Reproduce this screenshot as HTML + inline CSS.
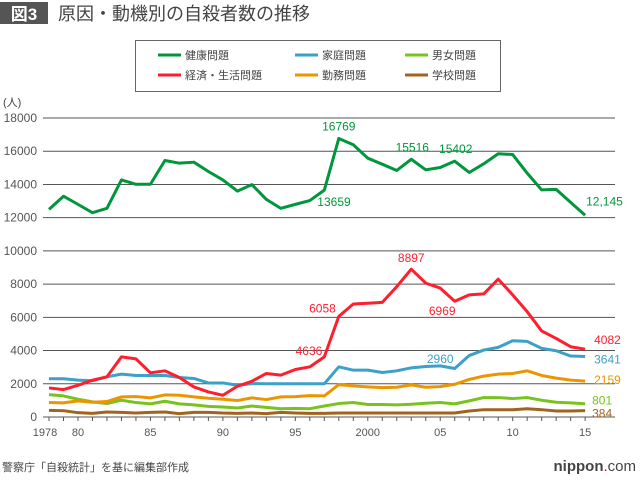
<!DOCTYPE html>
<html><head><meta charset="utf-8">
<style>
body{margin:0;background:#fff;width:640px;height:478px;overflow:hidden;font-family:"Liberation Sans","Noto Sans CJK JP",sans-serif;}
svg text{font-family:"Liberation Sans","Noto Sans CJK JP",sans-serif;}
</style></head><body>
<svg id="chart" width="640" height="478">
<rect x="0" y="2" width="48" height="22" fill="#555"/>
<text x="24" y="20" fill="#fff" font-size="17" font-weight="bold" text-anchor="middle">図3</text>
<text x="58" y="20" fill="#444" font-size="18">原因・動機別の自殺者数の推移</text>
<g>
<rect x="135.5" y="40.5" width="365" height="51" fill="#fff" stroke="#666"/>
</g>
<text x="3" y="106" fill="#444" font-size="11">(人)</text>
<g id="grid"></g><g id="series"></g><g id="labels"></g>
<text x="2" y="471" fill="#444" font-size="11">警察庁「自殺統計」を基に編集部作成</text>
<text x="636" y="471" fill="#444" font-size="15" text-anchor="end"><tspan font-weight="bold">nippon</tspan><tspan fill="#e60012">.</tspan><tspan>com</tspan></text>
</svg>
<script>
const years=[];for(let y=1978;y<=2015;y++)years.push(y);
const health=[12500,13290,12800,12300,12560,14270,14010,14010,15440,15280,15340,14780,14270,13600,13990,13100,12560,12800,13030,13659,16769,16390,15580,15220,14840,15516,14880,15020,15402,14720,15240,15850,15800,14680,13670,13700,12920,12145];
const economy=[1750,1650,1910,2215,2420,3620,3500,2660,2780,2380,1810,1510,1310,1850,2150,2620,2520,2860,3020,3620,6058,6800,6850,6900,7850,8897,8060,7760,6969,7350,7410,8300,7350,6340,5180,4730,4230,4082];
const family=[2300,2300,2220,2180,2420,2580,2500,2500,2500,2380,2320,2050,2050,1910,2010,2000,2000,2000,2000,2000,3020,2820,2820,2680,2780,2960,3040,3080,2920,3700,4030,4190,4590,4550,4130,3990,3670,3641];
const work=[870,850,970,890,930,1210,1230,1150,1330,1310,1210,1130,1070,990,1150,1050,1210,1230,1290,1270,1950,1870,1810,1770,1790,1930,1790,1830,1970,2260,2460,2580,2620,2780,2500,2340,2220,2159];
const gender=[1350,1270,1070,910,810,1010,870,790,950,790,730,640,600,540,660,580,500,520,500,660,810,870,750,750,730,770,830,870,790,970,1170,1170,1110,1170,1010,890,850,801];
const school=[400,380,260,220,300,280,240,280,300,200,280,280,240,220,240,200,280,240,220,220,240,240,240,240,240,240,240,240,240,360,440,440,440,500,440,360,360,384];
const yTicks=[0,2000,4000,6000,8000,10000,12000,14000,16000,18000];
const xTickYears=[1978,1980,1985,1990,1995,2000,2005,2010,2015];
const xTickLabels=["1978","80","85","90","95","2000","05","10","15"];
const seriesNames=["健康問題","家庭問題","男女問題","経済・生活問題","勤務問題","学校問題"];
const NS="http://www.w3.org/2000/svg";
const X=y=>49+(y-1978)*14.49;
const Y=v=>417-v*299/18000;
function mk(tag,attrs,parent){const e=document.createElementNS(NS,tag);for(const k in attrs)e.setAttribute(k,attrs[k]);parent.appendChild(e);return e;}
const grid=document.getElementById('grid'),ser=document.getElementById('series'),lab=document.getElementById('labels'),svg=document.getElementById('chart');
yTicks.forEach(v=>{
 const l=mk('line',{x1:43,x2:615,y1:Y(v),y2:Y(v),stroke:'#555','stroke-width':1},grid);
 
 
 const t=mk('text',{x:37,y:Y(v)+4,'font-size':12,fill:'#555','text-anchor':'end'},grid);t.textContent=v;
 
 
});
years.forEach(y=>{
 const l=mk('line',{x1:X(y),x2:X(y),y1:Y(0),y2:Y(0)+4,stroke:'#555'},grid);
 
 
});
xTickYears.forEach((y,i)=>{
 const t=mk('text',{x:X(y)-(i==0?4:0),y:436,'font-size':11,fill:'#555','text-anchor':'middle'},grid);t.textContent=xTickLabels[i];
 
 
});
const defs=[[school,'#a0641e','school'],[gender,'#78c31e','gender'],[work,'#eb9600','work'],[family,'#3ca0c8','family'],[economy,'#ff1e2d','economy'],[health,'#00963c','health']];
defs.forEach(([d,c,n])=>{
 const p=mk('polyline',{points:d.map((v,i)=>X(years[i])+','+Y(v)).join(' '),fill:'none',stroke:c,'stroke-width':3,'stroke-linejoin':'round'},ser);
 
 
});
function label(txt,x,y,c,anchor,name){const t=mk('text',{x:x,y:y,fill:c,'font-size':12,'text-anchor':anchor||'middle'},lab);t.textContent=txt;
 
 
 return t;}
const G='#00963c',R='#ff1e2d',B='#3ca0c8',O='#eb9600',LG='#78c31e',BR='#a0641e';
label('16769',X(1998),Y(16769)-8,G,'middle','label-health-1998');
label('13659',X(1997)-7,Y(13659)+16,G,'start','label-health-1997');
label('15516',X(2003)+1,Y(15516)-8,G,'middle','label-health-2003');
label('15402',X(2006)+1,Y(15402)-8,G,'middle','label-health-2006');
label('12,145',X(2015)+1,Y(12145)-10,G,'start','label-health-2015');
label('6058',X(1998)-3,Y(6058)-4,R,'end','label-economy-1998');
label('4636',X(1997)-2,Y(4636)+15,R,'end','label-economy-1997');
label('8897',X(2003),Y(8897)-7,R,'middle','label-economy-2003');
label('6969',X(2005)+2,Y(6969)+14,R,'middle','label-economy-2006');
label('4082',X(2015)+9,Y(4082)-5,R,'start','label-economy-2015');
label('2960',X(2005),Y(2960)-5,B,'middle','label-family-2005');
label('3641',X(2015)+9,Y(3641)+7,B,'start','label-family-2015');
label('2159',X(2015)+9,Y(2159)+3,O,'start','label-work-2015');
label('801',X(2015)+7,Y(801)+1,LG,'start','label-gender-2015');
label('384',X(2015)+7,Y(384)+7,BR,'start','label-school-2015');
const legendColors=[G,B,LG,R,O,BR];
const lgX=[158,295,405],lgY=[55,75];
seriesNames.forEach((n,i)=>{
 const cx=lgX[i%3],cy=lgY[Math.floor(i/3)];
 const l=mk('line',{x1:cx,x2:cx+23,y1:cy,y2:cy,stroke:legendColors[i],'stroke-width':3},svg);
 
 
 const t=mk('text',{x:cx+27,y:cy+4,'font-size':11,fill:'#444'},svg);t.textContent=n;
 
 
});
</script>
</body></html>
